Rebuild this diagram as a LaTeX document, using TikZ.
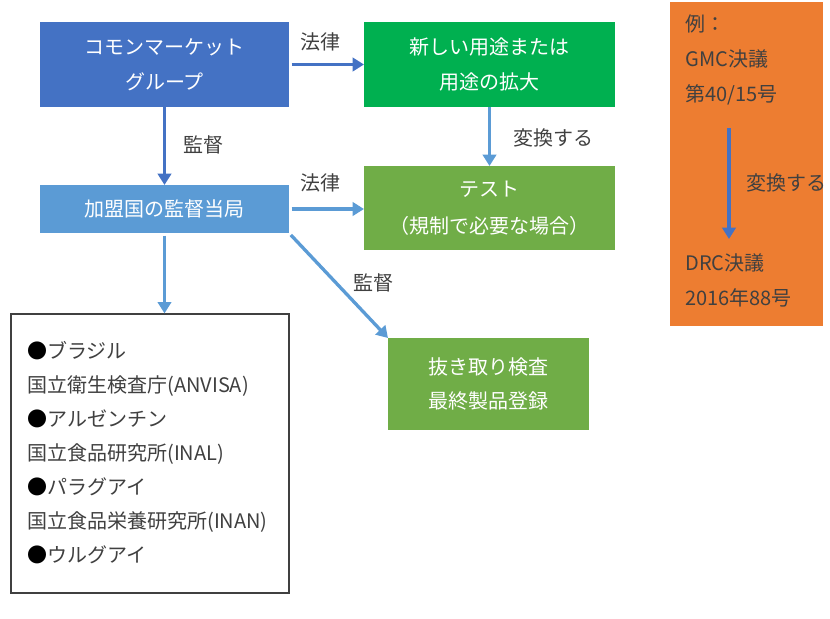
\documentclass[tikz,border=0pt]{standalone}
\usepackage{fontspec}
\setmainfont{Noto Sans CJK JP}
\usetikzlibrary{arrows.meta}
\definecolor{dblue}{HTML}{4472C4}
\definecolor{lblue}{HTML}{5B9BD5}
\definecolor{bgreen}{HTML}{00B050}
\definecolor{lgreen}{HTML}{70AD47}
\definecolor{orng}{HTML}{ED7D31}
\definecolor{txt}{HTML}{404040}
\tikzset{
  box/.style={rectangle, inner sep=0pt, outer sep=0pt, align=center, text=white,
    font=\fontsize{15}{26}\selectfont},
  lbl/.style={text=txt, inner sep=0pt, font=\fontsize{15}{18}\selectfont},
  darr/.style={draw=dblue, line width=2.5pt, -{Triangle[width=10pt,length=8.5pt]}},
  larr/.style={draw=lblue, line width=2.5pt, -{Triangle[width=10pt,length=8.5pt]}},
}
\begin{document}
\begin{tikzpicture}[x=0.75pt,y=-0.75pt]
\useasboundingbox (0,0) rectangle (830,618);
% boxes
\node[box, fill=dblue, minimum width=186.75pt, minimum height=63.75pt] (b1) at (164.5,64.5) {コモンマーケット\\グループ};
\node[box, fill=bgreen, minimum width=188.25pt, minimum height=63.75pt] (b2) at (489.5,64.5) {新しい用途または\\用途の拡大};
\node[box, fill=lblue, minimum width=186.75pt, minimum height=36pt] (b3) at (164.5,209) {加盟国の監督当局};
\node[box, fill=lgreen, minimum width=188.25pt, minimum height=63pt, font=\fontsize{15}{28}\selectfont] (b4) at (489.5,208) {テスト\\（規制で必要な場合）};
\node[box, fill=lgreen, minimum width=150.75pt, minimum height=69pt] (b5) at (488.5,384) {抜き取り検査\\最終製品登録};
\node[rectangle, draw=black!75, line width=0.9pt, fill=white, inner sep=0pt, minimum width=208.5pt, minimum height=209.25pt] (list) at (150,453.5) {};
\node[anchor=west, align=left, text=txt, inner sep=0pt, font=\fontsize{15}{25.5}\selectfont] (listtext) at (27,452.5)
 {\textcolor{black}{●}ブラジル\\
  国立衛生検査庁(ANVISA)\\
  \textcolor{black}{●}アルゼンチン\\
  国立食品研究所(INAL)\\
  \textcolor{black}{●}パラグアイ\\
  国立食品栄養研究所(INAN)\\
  \textcolor{black}{●}ウルグアイ};
\node[rectangle, fill=orng, inner sep=0pt, minimum width=114.75pt, minimum height=243pt] (ex) at (746.5,164) {};
\node[anchor=west, align=left, text=txt, inner sep=0pt, font=\fontsize{15}{26}\selectfont] (ex1) at (685,60) {例：\\GMC決議\\第40/15号};
\node[anchor=west, align=left, text=txt, inner sep=0pt, font=\fontsize{15}{26}\selectfont] (ex2) at (685,280.5) {DRC決議\\2016年88号};
\coordinate (exa) at (729,128);
\coordinate (exb) at (729,239);
% connectors
\draw[darr, shorten <=2pt] (b1.east) -- (b2.west);
\draw[darr] (b1.south) -- (b3.north);
\draw[larr] (b2.south) -- (b4.north);
\draw[larr, shorten <=2pt] (b3.east) -- (b3.east -| b4.west);
\draw[larr, shorten <=2pt] (b3.south) -- (b3.south |- list.north);
\draw[larr, shorten <=2pt] (b3.south east) -- (b5.north west);
\draw[darr] (exa) -- (exb);
% labels
\node[lbl] (l1) at (320,42) {法律};
\node[lbl] (l2) at (203,145) {監督};
\node[lbl] (l3) at (553,138) {変換する};
\node[lbl] (l4) at (320,183) {法律};
\node[lbl] (l5) at (373,283) {監督};
\node[lbl] (l6) at (786,183) {変換する};
\end{tikzpicture}
\end{document}
